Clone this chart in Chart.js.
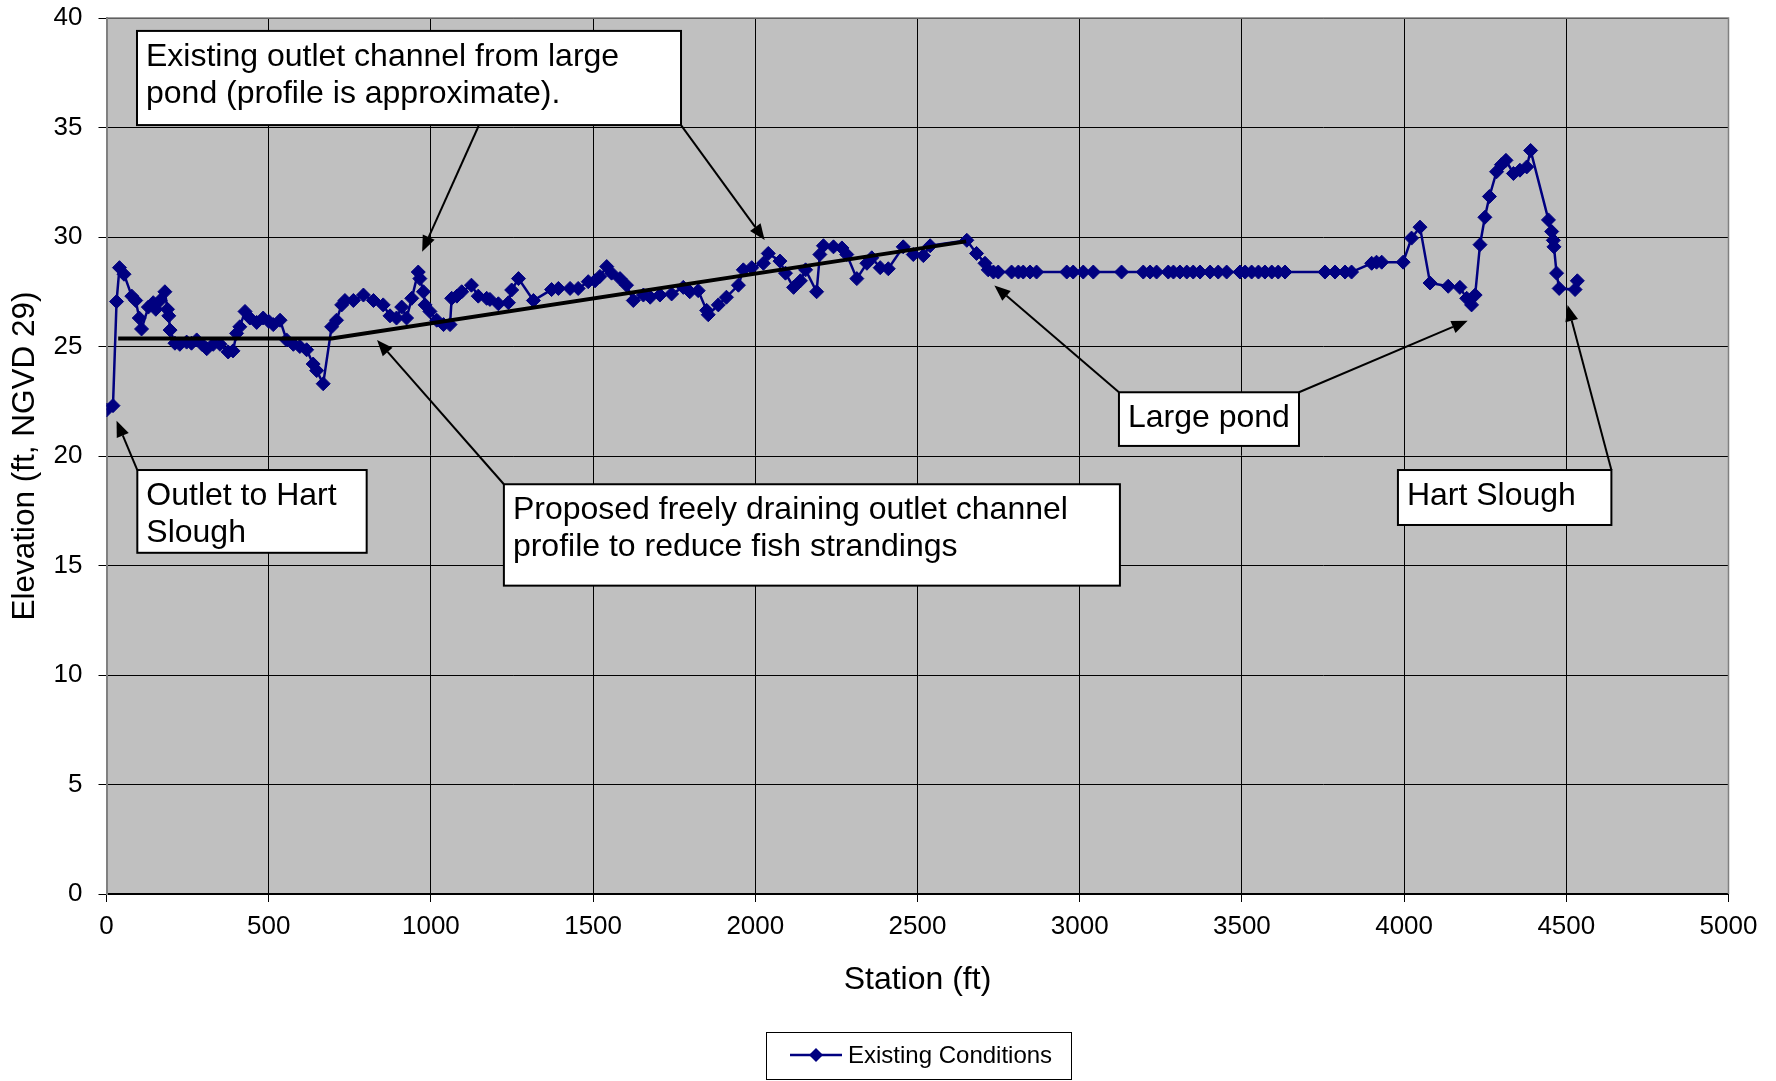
<!DOCTYPE html>
<html><head><meta charset="utf-8">
<script src="https://cdn.jsdelivr.net/npm/chart.js@4.4.1/dist/chart.umd.min.js"></script>
<style>html,body{margin:0;padding:0;background:#fff;overflow:hidden}#wrap{width:1776px;height:1081px;position:relative}</style>
</head><body><div id="wrap"><canvas id="c" width="1776" height="1081"></canvas></div>
<script>
// ---- data ----
const stations = [0,20,31,40,54,78,90,101,108,129,144,152,165,180,188,192,196,211,226,247,262,278,294,309,329,350,375,390,401,411,427,442,463,483,500,514,535,555,576,596,617,637,648,668,694,709,725,735,761,792,823,853,874,894,910,925,941,961,966,977,982,997,1018,1039,1059,1064,1080,1095,1125,1146,1172,1182,1208,1239,1249,1270,1316,1372,1393,1429,1454,1485,1506,1521,1542,1557,1583,1603,1624,1655,1676,1706,1742,1778,1798,1824,1850,1855,1886,1911,1948,1963,1989,2025,2040,2076,2093,2118,2139,2155,2189,2199,2210,2241,2267,2282,2313,2344,2359,2385,2410,2456,2487,2518,2539,2652,2682,2708,2718,2734,2749,2790,2811,2826,2847,2867,2960,2980,3011,3042,3129,3196,3217,3237,3273,3289,3309,3330,3350,3371,3402,3427,3453,3494,3510,3530,3551,3571,3592,3612,3633,3756,3787,3818,3838,3900,3915,3931,3997,4023,4049,4080,4136,4172,4193,4208,4219,4234,4249,4263,4285,4300,4314,4337,4357,4378,4390,4445,4455,4460,4462,4470,4478,4527,4534];
const elevations = [22.1,22.3,27.05,28.6,28.3,27.3,27.1,26.3,25.8,26.8,27.0,26.7,27.1,27.5,26.7,26.4,25.75,25.15,25.1,25.2,25.15,25.3,25.1,24.9,25.1,25.1,24.75,24.8,25.6,25.9,26.6,26.3,26.1,26.3,26.15,26.0,26.2,25.3,25.1,25.0,24.85,24.2,23.9,23.3,25.9,26.2,26.9,27.1,27.1,27.35,27.1,26.9,26.4,26.3,26.8,26.3,27.2,28.4,28.1,27.5,26.9,26.6,26.2,26.0,26.0,27.2,27.3,27.5,27.8,27.3,27.2,27.15,26.95,27.0,27.58,28.1,27.1,27.6,27.65,27.65,27.65,27.96,28.0,28.2,28.65,28.35,28.1,27.8,27.1,27.35,27.25,27.35,27.4,27.7,27.5,27.55,26.65,26.45,26.9,27.25,27.8,28.5,28.6,28.8,29.25,28.9,28.35,27.7,28.0,28.5,27.5,29.2,29.6,29.55,29.5,29.2,28.1,28.8,29.05,28.6,28.55,29.55,29.2,29.15,29.6,29.85,29.25,28.8,28.5,28.4,28.4,28.4,28.4,28.4,28.4,28.4,28.4,28.4,28.4,28.4,28.4,28.4,28.4,28.4,28.4,28.4,28.4,28.4,28.4,28.4,28.4,28.4,28.4,28.4,28.4,28.4,28.4,28.4,28.4,28.4,28.4,28.4,28.4,28.4,28.4,28.8,28.85,28.85,28.85,29.95,30.45,27.9,27.75,27.7,27.2,26.9,27.35,29.65,30.9,31.85,32.98,33.3,33.5,32.9,33.05,33.2,33.95,30.78,30.25,29.85,29.55,28.35,27.65,27.6,28.0];
const proposedStations = [36, 694, 2650];
const proposedElevations = [25.37, 25.37, 29.8];
const xTickValues = [0,500,1000,1500,2000,2500,3000,3500,4000,4500,5000];
const yTickValues = [0,5,10,15,20,25,30,35,40];
const seriesName = 'Existing Conditions';
const xTitle = 'Station (ft)';
const yTitle = 'Elevation (ft, NGVD 29)';

// annotation boxes (data coordinates: station, elevation)
const annotations = [
  {lines:['Existing outlet channel from large','pond (profile is approximate).'], box:[94,39.41,1771,35.11],
   arrows:[{from:[1147,35.07],to:[973,29.33]},{from:[1771,35.11],to:[2029,29.86]}]},
  {lines:['Outlet to Hart','Slough'], box:[95,19.36,802,15.58], arrows:[{from:[95,19.36],to:[31,21.61]}]},
  {lines:['Proposed freely draining outlet channel','profile to reduce fish strandings'], box:[1225,18.71,3124,14.08],
   arrows:[{from:[1225,18.71],to:[834,25.30]}]},
  {lines:['Large pond'], box:[3121,22.91,3676,20.46],
   arrows:[{from:[3121,22.91],to:[2737,27.79]},{from:[3676,22.91],to:[4196,26.18]}]},
  {lines:['Hart Slough'], box:[3981,19.36,4639,16.85], arrows:[{from:[4639,19.36],to:[4504,26.89]}]}
];

const FONT = '"Liberation Sans", Arial, sans-serif';
const NAVY = '#000080';

function drawArrow(ctx, x0, y0, x1, y1){
  const ang = Math.atan2(y1-y0, x1-x0), L = 16, W = 6.5;
  const bx = x1 - L*Math.cos(ang), by = y1 - L*Math.sin(ang);
  ctx.beginPath(); ctx.moveTo(x0,y0); ctx.lineTo(bx,by); ctx.stroke();
  ctx.beginPath(); ctx.moveTo(x1,y1);
  ctx.lineTo(bx + W*Math.sin(ang), by - W*Math.cos(ang));
  ctx.lineTo(bx - W*Math.sin(ang), by + W*Math.cos(ang));
  ctx.closePath(); ctx.fill();
}

const bgPlugin = {
  id:'bg',
  beforeDraw(chart){
    const {ctx, chartArea:a} = chart;
    ctx.save();
    ctx.fillStyle='#fff'; ctx.fillRect(0,0,chart.width,chart.height);
    ctx.fillStyle='#C0C0C0'; ctx.fillRect(a.left,a.top,a.right-a.left,a.bottom-a.top);
    ctx.restore();
  },
  afterDatasetsDraw(chart){
    const {ctx, chartArea:a} = chart;
    ctx.save(); ctx.strokeStyle='#808080'; ctx.lineWidth=1.5;
    ctx.beginPath(); ctx.moveTo(a.left,a.top); ctx.lineTo(a.right,a.top); ctx.lineTo(a.right,a.bottom); ctx.stroke();
    ctx.restore();
  }
};

const annoPlugin = {
  id:'anno',
  afterDraw(chart){
    const {ctx, scales:{x,y}} = chart;
    ctx.save();
    ctx.strokeStyle='#000'; ctx.fillStyle='#000'; ctx.lineWidth=2;
    for (const an of annotations){
      for (const ar of an.arrows){
        drawArrow(ctx, x.getPixelForValue(ar.from[0]), y.getPixelForValue(ar.from[1]),
                       x.getPixelForValue(ar.to[0]), y.getPixelForValue(ar.to[1]));
      }
    }
    ctx.font = '32px ' + FONT; ctx.textBaseline='alphabetic'; ctx.textAlign='left';
    for (const an of annotations){
      const x1 = x.getPixelForValue(an.box[0]), y1 = y.getPixelForValue(an.box[1]);
      const x2 = x.getPixelForValue(an.box[2]), y2 = y.getPixelForValue(an.box[3]);
      ctx.fillStyle='#fff'; ctx.fillRect(x1,y1,x2-x1,y2-y1);
      ctx.strokeStyle='#000'; ctx.lineWidth=2; ctx.strokeRect(x1,y1,x2-x1,y2-y1);
      ctx.fillStyle='#000';
      an.lines.forEach((t,i)=>ctx.fillText(t, x1+9, y1+35+i*37));
    }
    // legend
    const lx=766.5, ly=1032.5, lw=305, lh=47;
    ctx.fillStyle='#fff'; ctx.fillRect(lx,ly,lw,lh);
    ctx.strokeStyle='#000'; ctx.lineWidth=1; ctx.strokeRect(lx,ly,lw,lh);
    const my = 1055;
    ctx.strokeStyle=NAVY; ctx.lineWidth=2.5;
    ctx.beginPath(); ctx.moveTo(790,my); ctx.lineTo(842,my); ctx.stroke();
    ctx.fillStyle=NAVY; ctx.beginPath();
    ctx.moveTo(816,my-7); ctx.lineTo(823,my); ctx.lineTo(816,my+7); ctx.lineTo(809,my); ctx.closePath(); ctx.fill();
    ctx.fillStyle='#000'; ctx.font='24px '+FONT; ctx.textBaseline='middle';
    ctx.fillText(seriesName, 848, my+1);
    ctx.restore();
  }
};

const existing = stations.map((s,i)=>({x:s, y:elevations[i]}));
const proposed = proposedStations.map((s,i)=>({x:s, y:proposedElevations[i]}));

new Chart(document.getElementById('c'), {
  type:'scatter',
  data:{datasets:[
    {label:'Proposed', data:proposed, showLine:true, borderColor:'#000', borderWidth:4, pointRadius:0, order:0},
    {label:seriesName, data:existing, showLine:true, borderColor:NAVY, backgroundColor:NAVY, borderWidth:2.5,
     pointStyle:'rectRot', pointRadius:7, pointBorderWidth:1, pointBorderColor:NAVY, pointBackgroundColor:NAVY, order:1}
  ]},
  options:{
    responsive:false, animation:false, devicePixelRatio:1,
    layout:{padding:{left:0,right:47.5,top:18,bottom:0}},
    plugins:{legend:{display:false}, tooltip:{enabled:false}},
    scales:{
      x:{type:'linear', min:0, max:5000,
         afterBuildTicks:s=>{s.ticks = xTickValues.map(v=>({value:v}));},
         afterFit:s=>{s.height = 187;},
         grid:{color:'#000', lineWidth:1, tickLength:8, drawTicks:true},
         border:{color:'#000', width:2},
         ticks:{color:'#000', font:{family:FONT,size:26}, padding:9.5, maxRotation:0, autoSkip:false, callback:v=>String(v)},
         title:{display:true, text:xTitle, color:'#000', font:{family:FONT,size:32}, padding:{top:0,bottom:82}}},
      y:{type:'linear', min:0, max:40,
         afterBuildTicks:s=>{s.ticks = yTickValues.map(v=>({value:v}));},
         afterFit:s=>{s.width = 106.5; s.paddingTop = 0; s.paddingBottom = 0;},
         grid:{color:'#000', lineWidth:1, tickLength:8, drawTicks:true},
         border:{color:'#808080', width:2},
         ticks:{color:'#000', font:{family:FONT,size:26}, padding:16, autoSkip:false, callback:v=>String(v)},
         title:{display:true, text:yTitle, color:'#000', font:{family:FONT,size:31.5}, padding:{top:6,bottom:0}}}
    }
  },
  plugins:[bgPlugin, annoPlugin]
});
</script></body></html>
